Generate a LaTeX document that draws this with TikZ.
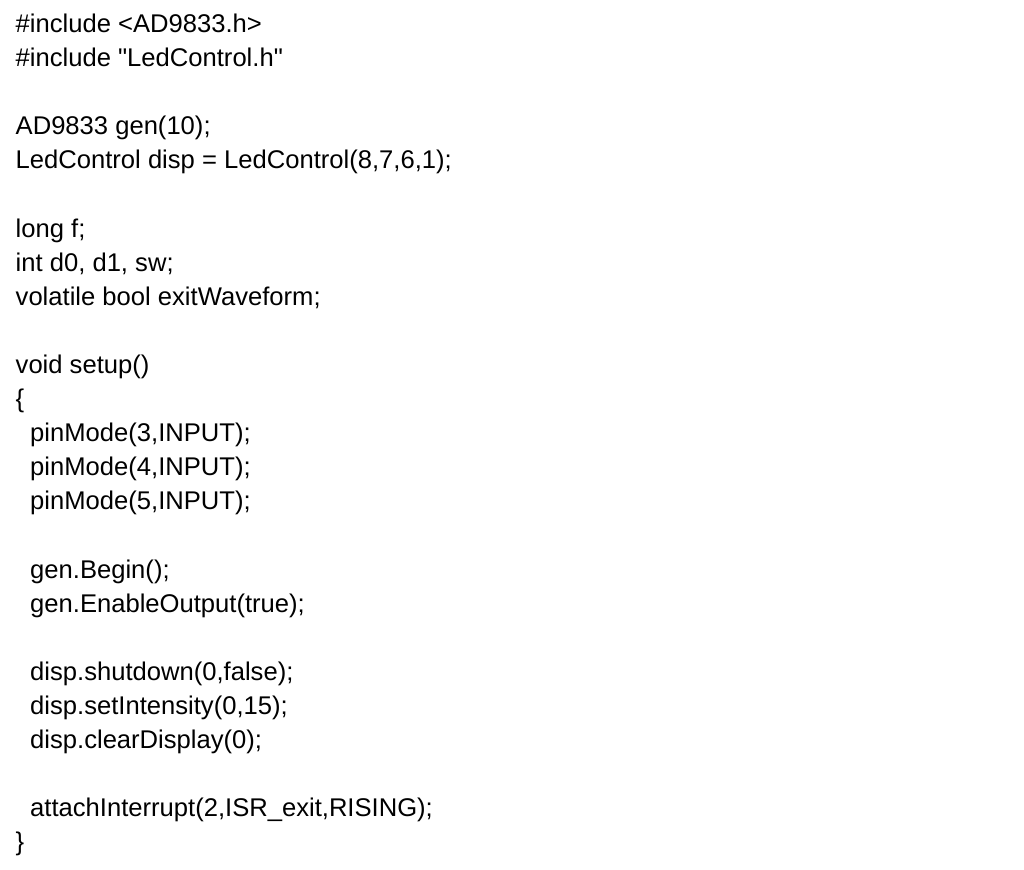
\documentclass[tikz,border=0pt]{standalone}
\usepackage{fontspec}
\setmainfont{Liberation Sans}[Ligatures=TeXOff]
\begin{document}
\begin{tikzpicture}[x=1pt,y=-1pt,line join=round,line cap=round]
			\tikzset{every node/.style={inner sep=0pt,anchor=base west,font=\fontsize{25.6}{34.1}\selectfont}}
			\fill[white] (0,0) rectangle (1024,869);
			\useasboundingbox (0,0) rectangle (1024,869);
			% headers and globals
			\node (inca) at (15.5,32.5) {\#include <AD9833.h>};
			\node (incb) at (15.5,66.6) {\#include "LedControl.h"};
			\node (gen) at (15.5,134.8) {AD9833 gen(10);};
			\node (disp) at (15.5,168.9) {LedControl disp = LedControl(8,7,6,1);};
			\node (vf) at (15.5,237.1) {long f;};
			\node (vd) at (15.5,271.2) {int d0, d1, sw;};
			\node (vx) at (15.5,305.3) {volatile bool exitWaveform;};
			% setup body
			\node (setup) at (15.5,373.5) {void setup()};
			\node (open) at (15.5,407.6) {\{};
			\node (pina) at (30,441.7) {pinMode(3,INPUT);};
			\node (pinb) at (30,475.8) {pinMode(4,INPUT);};
			\node (pinc) at (30,509.9) {pinMode(5,INPUT);};
			\node (gbeg) at (30,578.1) {gen.Begin();};
			\node (gout) at (30,612.2) {gen.EnableOutput(true);};
			\node (dshut) at (30,680.4) {disp.shutdown(0,false);};
			\node (dint) at (30,714.5) {disp.setIntensity(0,15);};
			\node (dclr) at (30,748.6) {disp.clearDisplay(0);};
			\node (isr) at (30,816.8) {attachInterrupt(2,ISR\_exit,RISING);};
			\node (close) at (15.5,850.9) {\}};
		\end{tikzpicture}
\end{document}
